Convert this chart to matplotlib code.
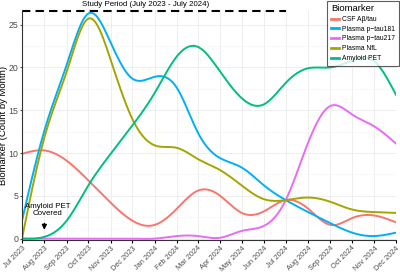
import numpy as np
import pandas as pd
import matplotlib
matplotlib.use("Agg")
import matplotlib.pyplot as plt
import matplotlib.dates as mdates

plt.rcParams['font.family'] = ['Liberation Sans', 'DejaVu Sans']

months = pd.date_range("2023-07-01", "2024-12-01", freq="MS")
month_labels = [d.strftime("%b %Y") for d in months]

series_names = ["CSF Aβ/tau", "Plasma p\u2212tau181", "Plasma p\u2212tau217", "Plasma NfL", "Amyloid PET"]
csf_abtau = [9.9, 10.3, 9.1, 6.8, 4.2, 2.1, 1.6, 3.5, 5.6, 5.0, 3.0, 3.2, 4.5, 3.5, 1.6, 2.4, 2.7, 1.9]
ptau181 = [2.1, 12.6, 20.3, 26.3, 22.9, 18.7, 18.9, 17.6, 12.4, 9.4, 8.3, 6.2, 4.5, 3.1, 1.8, 0.7, 0.3, 0.7]
ptau217 = [0.0, 0.0, 0.0, 0.0, 0.0, 0.0, 0.0, 0.3, 0.3, 0.1, 0.9, 1.5, 4.5, 11.2, 15.5, 14.5, 13.1, 11.1]
nfl = [0.0, 11.8, 19.5, 25.7, 20.9, 14.0, 10.9, 10.6, 9.3, 8.0, 6.2, 4.6, 4.5, 4.8, 4.3, 3.4, 3.1, 3.0]
amyloid_pet = [0.0, 0.2, 2.1, 6.2, 9.9, 13.2, 17.0, 21.3, 22.4, 19.5, 16.4, 15.7, 18.2, 19.9, 20.0, 20.8, 20.7, 16.8]

colors = ["#F8766D", "#00B0F6", "#E76BF3", "#A3A500", "#00BF7D"]
all_series = [csf_abtau, ptau181, ptau217, nfl, amyloid_pet]

study_start = pd.Timestamp("2023-07-01")
study_end = pd.Timestamp("2024-07-01")
study_label = "Study Period (July 2023 - July 2024)"
study_label_date = pd.Timestamp("2023-12-20")
annot_text = "Amyloid PET\nCovered"
annot_date = pd.Timestamp("2023-08-01")


def natural_spline(x, y, n=12):
    x = np.asarray(x, float); y = np.asarray(y, float)
    m = len(x); h = np.diff(x)
    A = np.zeros((m, m)); r = np.zeros(m)
    A[0, 0] = A[-1, -1] = 1
    for i in range(1, m - 1):
        A[i, i - 1] = h[i - 1]; A[i, i] = 2 * (h[i - 1] + h[i]); A[i, i + 1] = h[i]
        r[i] = 3 * ((y[i + 1] - y[i]) / h[i] - (y[i] - y[i - 1]) / h[i - 1])
    c = np.linalg.solve(A, r)
    xs, ys = [], []
    for i in range(m - 1):
        b = (y[i + 1] - y[i]) / h[i] - h[i] * (2 * c[i] + c[i + 1]) / 3
        d = (c[i + 1] - c[i]) / (3 * h[i])
        t = np.linspace(0, h[i], n, endpoint=(i == m - 2))
        xs.append(x[i] + t); ys.append(y[i] + b * t + c[i] * t ** 2 + d * t ** 3)
    return np.concatenate(xs), np.concatenate(ys)


fig = plt.figure(figsize=(4.0, 2.72), dpi=100)
ax = fig.add_axes([0.055, 0.118, 0.935, 0.845])

xnum = mdates.date2num(months)
for name, vals, col in zip(series_names, all_series, colors):
    xs, ys = natural_spline(xnum, vals)
    ax.plot(xs, ys, color=col, lw=1.4, label=name)

ax.plot([study_start, study_end], [26.6, 26.6], ls=(0, (4, 2.5)), color="black", lw=1.5, clip_on=False)
ax.text(study_label_date, 26.95, study_label, ha="center", va="bottom", fontsize=5.7, clip_on=False)

ax.annotate("", xy=(annot_date, 0.7), xytext=(annot_date, 2.1),
            arrowprops=dict(arrowstyle="-|>", color="black", lw=1.0, mutation_scale=7))
ax.text(mdates.date2num(annot_date) + 5, 3.3, annot_text, ha="center", va="center",
        fontsize=5.7, linespacing=1.05)

ax.set_xlim(months[0], months[-1])
ax.set_ylim(-0.15, 26.7)
ax.set_xticks(months)
ax.set_xticklabels(month_labels, rotation=45, ha="right", rotation_mode="anchor", fontsize=5.3, color="#4D4D4D")
ax.set_yticks([0, 5, 10, 15, 20, 25])
ax.set_yticks([2.5, 7.5, 12.5, 17.5, 22.5], minor=True)
ax.tick_params(axis="y", labelsize=6.3, colors="#4D4D4D", length=1.5, pad=1)
ax.tick_params(axis="x", length=2, pad=1.5)
ax.tick_params(axis="y", which="minor", length=0)
ax.set_ylabel("Biomarker (Count by Month)", fontsize=6.8)
ax.yaxis.set_label_coords(-0.038, 0.5)
ax.grid(True, which="major", color="#EBEBEB", lw=0.6)
ax.grid(True, which="minor", axis="y", color="#F4F4F4", lw=0.4)
ax.set_axisbelow(True)
for s in ["top", "right"]:
    ax.spines[s].set_visible(False)
for s in ["left", "bottom"]:
    ax.spines[s].set_color("#333333")
    ax.spines[s].set_linewidth(0.8)

leg = ax.legend(title="Biomarker", loc="upper right", bbox_to_anchor=(0.998, 0.998),
                bbox_transform=fig.transFigure, fontsize=4.9,
                title_fontsize=6.8, frameon=True, fancybox=False, handlelength=1.2,
                labelspacing=0.4, borderpad=0.55, handletextpad=0.5, borderaxespad=0)
leg.get_frame().set_edgecolor("#333333")
leg.get_frame().set_linewidth(0.8)
leg._legend_box.align = "left"
for lh in leg.get_lines():
    lh.set_linewidth(2.0)

fig.savefig("out.png", dpi=100)
